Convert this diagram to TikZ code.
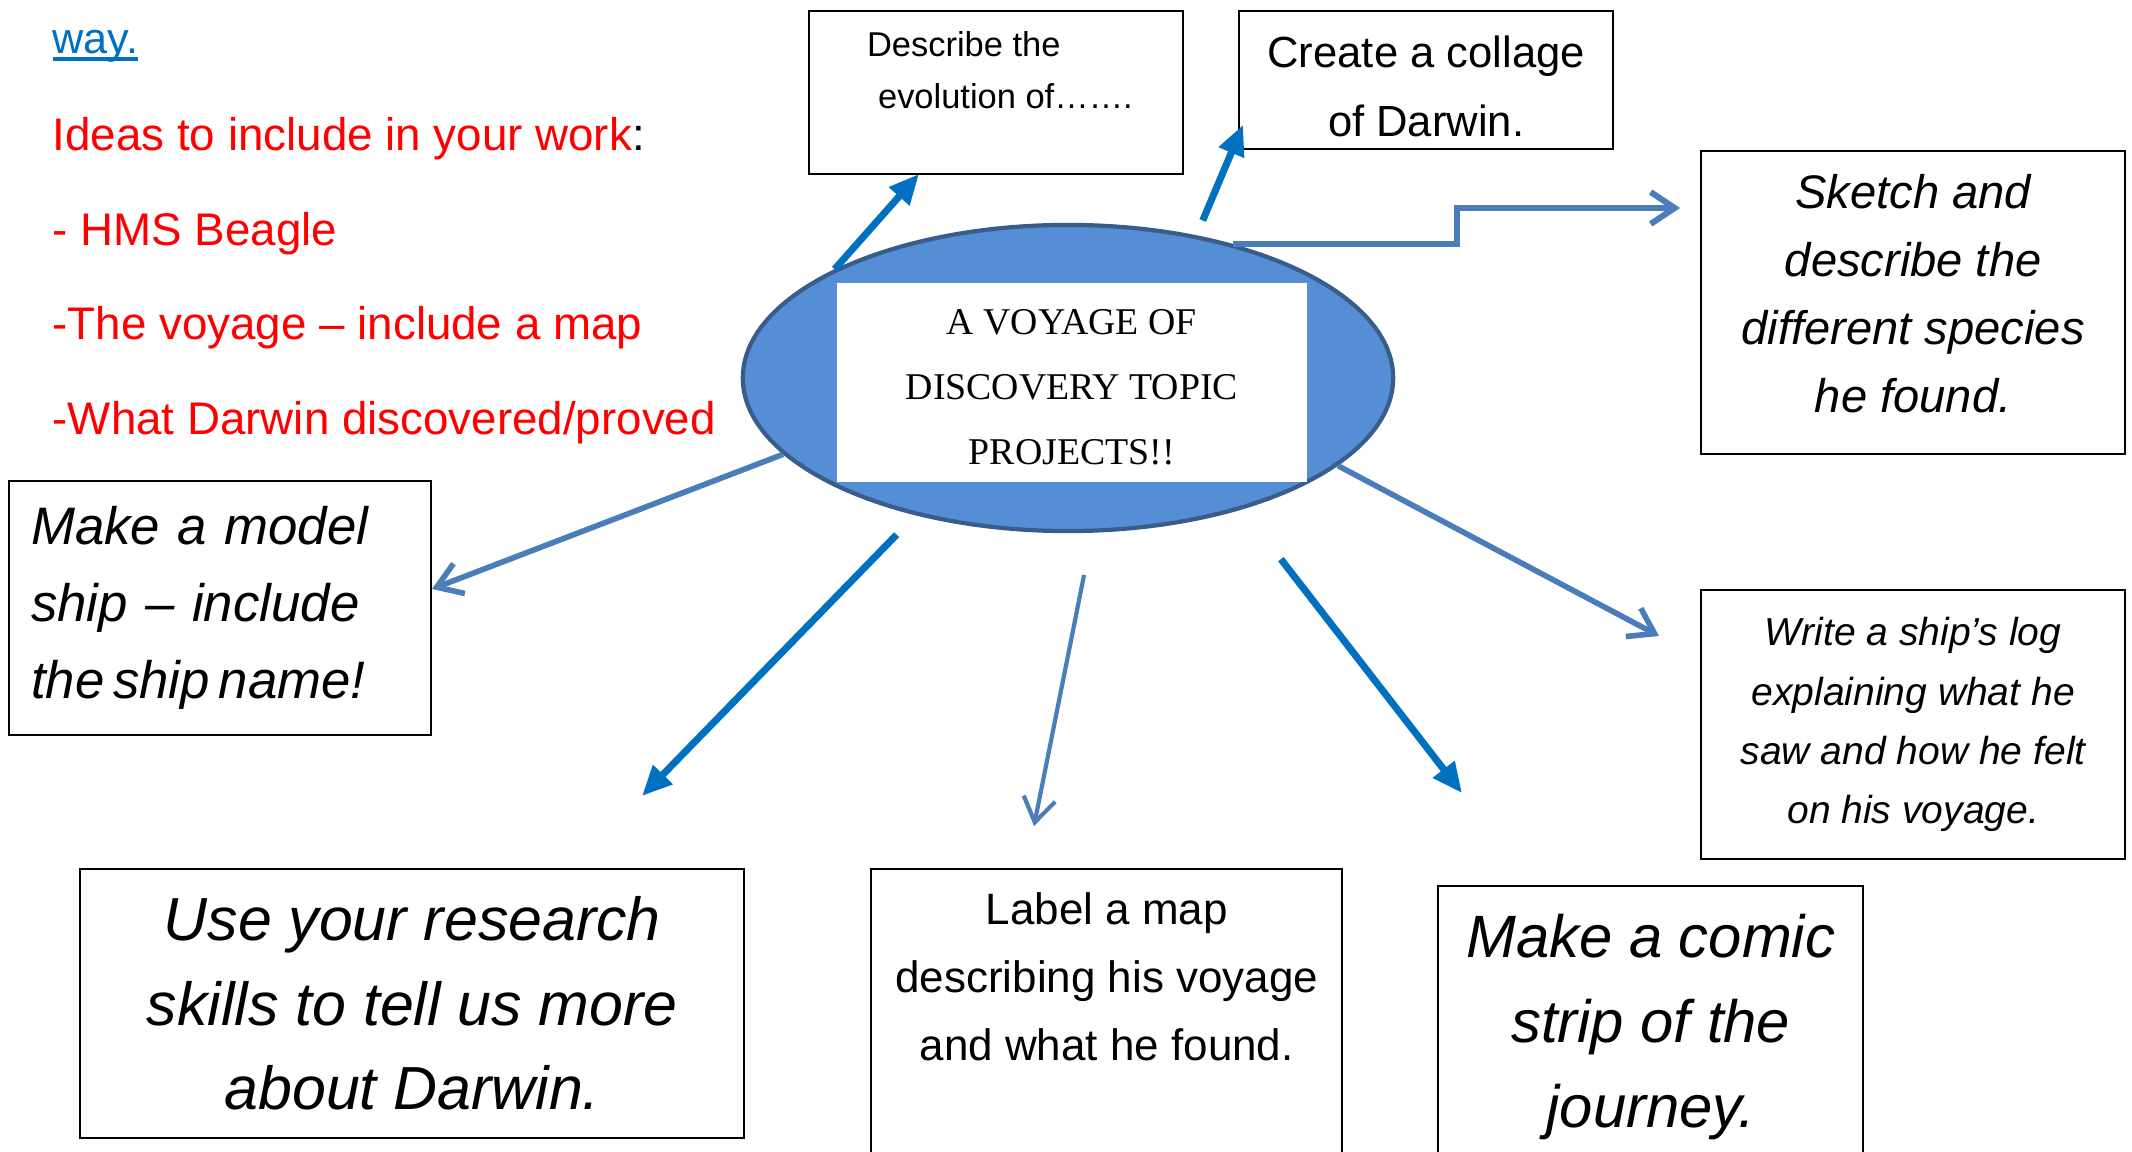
\documentclass[tikz,border=0pt]{standalone}
\usepackage{fontspec}
\setmainfont{Liberation Sans}
\newfontfamily\titlefont{Liberation Serif}
\usepackage{tikz}
\usetikzlibrary{arrows.meta, positioning, shapes.geometric}
\usepackage{xcolor}
\definecolor{hubFill}{HTML}{558ED5}
\definecolor{hubLine}{HTML}{385D8A}
\definecolor{arrDark}{HTML}{0070C0}
\definecolor{arrSoft}{HTML}{4A7EBB}
\definecolor{ideaRed}{HTML}{FF0000}
\newcommand{\fs}[2]{\fontsize{#1}{#2}\selectfont}
\newcommand{\thickul}[1]{\setbox0\hbox{#1}\rlap{\rule[-2pt]{\wd0}{1.2pt}}\box0}
% text block hung from the top of a box: height, width, top gap, lines
\newcommand{\inbox}[4]{\parbox[c][#1][t]{#2}{\centering\vspace*{#3}#4}}

\begin{document}
\begin{tikzpicture}[x=0.01cm, y=-0.01cm, every node/.style={inner sep=0pt},
  idea/.style={anchor=base west, text=ideaRed, font=\fs{13}{15}},
  task/.style={draw=black, line width=0.6pt, anchor=north west, align=center},
  bold/.style={-{Triangle[length=0.3cm, width=0.26cm]}, line width=2pt, arrDark},
  soft/.style={-{Straight Barb[length=0.24cm, width=0.32cm]}, line width=1.6pt, arrSoft}]
  \useasboundingbox (0,0) rectangle (2132,1152);
  \clip (0,0) rectangle (2132,1152);
  % ideas list
  \node[idea, text=arrDark, font=\fs{12.3}{14}] (way) at (52,54) {\thickul{way.}};
  \node[idea] (ideas) at (52,151) {Ideas to include in your work{\color{black}:}};
  \node[idea] (beagle) at (52,246) {- HMS Beagle};
  \node[idea] (voyage) at (52,340) {-The voyage – include a map};
  \node[idea] (proved) at (52,435) {-What Darwin discovered/proved};
  % hub
  \node[ellipse, draw=hubLine, line width=1.2pt, fill=hubFill, minimum width=6.5cm,
        minimum height=3.06cm] (hub) at (1068,378) {};
  \node[fill=white, anchor=north west, font=\titlefont\fs{10.75}{18.5}] (title) at (836,282)
    {\inbox{1.99cm}{4.7cm}{0.27cm}{A VOYAGE OF\\DISCOVERY TOPIC\\PROJECTS!!}};
  % task boxes
  \node[task, font=\fs{9.8}{14.8}] (evol) at (808,10)
    {\parbox[c][1.63cm][t]{3.74cm}{\vspace*{0.2cm}\hspace*{0.58cm}Describe the\\\hspace*{0.69cm}evolution of…….}};
  \node[task, font=\fs{12.4}{19.6}] (coll) at (1238,10)
    {\inbox{1.38cm}{3.74cm}{0.25cm}{Create a collage\\of Darwin.}};
  \node[task, font=\itshape\fs{13.4}{19.4}] (sketch) at (1700,150)
    {\inbox{3.03cm}{4.24cm}{0.23cm}{Sketch and\\describe the\\different species\\he found.}};
  \node[task, align=left, text width=3.78cm, inner xsep=0.22cm, minimum height=2.54cm,
        font=\itshape\fs{15}{21.9}] (model) at (8,480)
    {Make a model\\ship – include\\the\,ship\,name!};
  \node[task, minimum width=4.24cm, minimum height=2.69cm, font=\itshape\fs{11.1}{16.9}] (log) at (1700,589)
    {Write a ship’s log\\explaining what he\\saw and how he felt\\on his voyage.};
  \node[task, minimum width=6.64cm, minimum height=2.69cm, font=\itshape\fs{17.3}{24}] (research) at (79,868)
    {Use your research\\skills to tell us more\\about Darwin.};
  \node[task, font=\fs{12.5}{19.3}] (map) at (870,868)
    {\inbox{3.2cm}{4.71cm}{0.24cm}{Label a map\\describing his voyage\\and what he found.}};
  \node[task, font=\itshape\fs{17}{24.2}] (comic) at (1437,885)
    {\inbox{3.2cm}{4.25cm}{0.28cm}{Make a comic\\strip of the\\journey.}};
  % arrow tips
  \coordinate (tEvol) at (919,174);
  \coordinate (tColl) at (1243,125);
  \coordinate (tSketch) at (1680,208);
  \coordinate (tModel) at (432,589);
  \coordinate (tLog) at (1659,636);
  \coordinate (tUse) at (642,796);
  \coordinate (tMap) at (1034,826);
  \coordinate (tComic) at (1462,793);
  % spokes
  \draw[bold] (hub.155) -- (tEvol);
  \draw[bold, shorten <=0.16cm] (hub.48) -- (tColl);
  \draw[soft, line width=1.7pt] (hub.39) -- ++(224,0) |- (tSketch);
  \draw[soft] (hub.195) -- (tModel);
  \draw[soft] (hub.342) -- (tLog);
  \draw[bold, shorten <=0.27cm] (hub.222) -- (tUse);
  \draw[soft, line width=1.2pt, shorten <=0.43cm] (hub.279) -- (tMap);
  \draw[bold, shorten <=0.63cm] (hub.323) -- (tComic);
\end{tikzpicture}
\end{document}
